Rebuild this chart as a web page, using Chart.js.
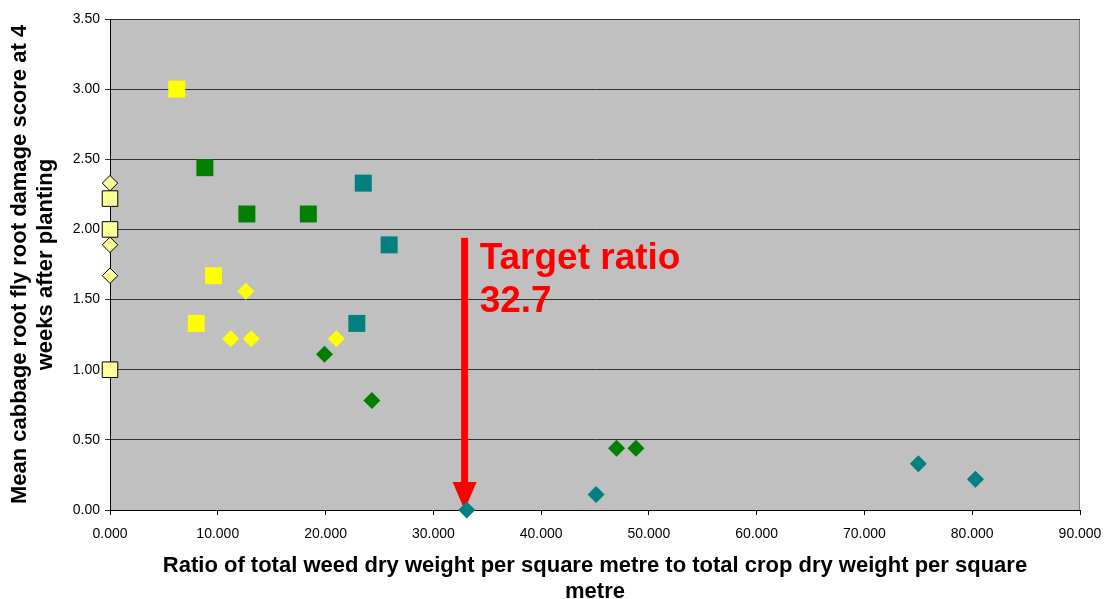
<!DOCTYPE html>
<html>
<head>
<meta charset="utf-8">
<script src="https://cdn.jsdelivr.net/npm/chart.js@4.4.0/dist/chart.umd.min.js"></script>
<style>
  html, body { margin: 0; padding: 0; background: #ffffff; }
  #wrap { width: 1106px; height: 599px; }
</style>
</head>
<body>
<div id="wrap"><canvas id="chart" width="1106" height="599"></canvas></div>
<script>
// ============================
// Data
// ============================
const xTicks = [0, 10, 20, 30, 40, 50, 60, 70, 80, 90];
const yTicks = [0, 0.5, 1, 1.5, 2, 2.5, 3, 3.5];

// pale yellow, bordered, sitting on the y axis
const paleSquareX = [0, 0, 0];
const paleSquareY = [2.22, 2.00, 1.00];
const paleDiamondX = [0, 0, 0];
const paleDiamondY = [2.33, 1.89, 1.67];

const yellowSquareX = [6.2, 9.6, 8.0];
const yellowSquareY = [3.00, 1.67, 1.33];
const yellowDiamondX = [12.6, 11.2, 13.1, 21.0];
const yellowDiamondY = [1.56, 1.22, 1.22, 1.22];

const greenSquareX = [8.8, 12.7, 18.4];
const greenSquareY = [2.44, 2.11, 2.11];
const greenDiamondX = [19.9, 24.3, 47.0, 48.8];
const greenDiamondY = [1.11, 0.78, 0.44, 0.44];

const tealSquareX = [23.5, 25.9, 22.9];
const tealSquareY = [2.33, 1.89, 1.33];
const tealDiamondX = [33.1, 45.1, 75.0, 80.3];
const tealDiamondY = [0.00, 0.11, 0.33, 0.22];

// target annotation
const targetLabel = ["Target ratio", "32.7"];
const arrowX = 32.9;
const arrowTop = 1.94;
const labelX = 34.3;
const labelY = 1.72;

function pts(xs, ys) {
    return xs.map((x, i) => ({ x: x, y: ys[i] }));
}

function series(xs, ys, style, radius, fill, border) {
    return {
        data: pts(xs, ys),
        pointStyle: style,
        pointRadius: radius,
        pointHoverRadius: radius,
        pointBackgroundColor: fill,
        pointBorderColor: border || fill,
        pointBorderWidth: border ? 1 : 0,
        showLine: false,
        clip: false
    };
}

// ============================
// Plugins
// ============================
const plotBackground = {
    id: "plotBackground",
    beforeDraw(chart) {
        const { ctx, chartArea: a } = chart;
        ctx.save();
        ctx.fillStyle = "#C0C0C0";
        ctx.fillRect(a.left, a.top, a.right - a.left, a.bottom - a.top);
        ctx.strokeStyle = "#808080";
        ctx.lineWidth = 1;
        ctx.strokeRect(a.left + 0.5, a.top + 0.5, a.right - a.left - 1, a.bottom - a.top);
        ctx.restore();
    }
};

const targetArrow = {
    id: "targetArrow",
    beforeDatasetsDraw(chart) {
        const { ctx } = chart;
        const xs = chart.scales.x, ys = chart.scales.y;
        const px = xs.getPixelForValue(arrowX);
        const top = ys.getPixelForValue(arrowTop);
        const tip = ys.getPixelForValue(0);
        const headLen = 28, headHalf = 12;

        ctx.save();
        ctx.fillStyle = "#FF0000";
        ctx.fillRect(px - 3.5, top, 7, tip - headLen - top + 1);
        ctx.beginPath();
        ctx.moveTo(px - headHalf, tip - headLen);
        ctx.lineTo(px + headHalf, tip - headLen);
        ctx.lineTo(px, tip);
        ctx.closePath();
        ctx.fill();

        ctx.font = "bold 37px 'Liberation Sans', Arial, sans-serif";
        ctx.textAlign = "left";
        ctx.textBaseline = "alphabetic";
        const lx = xs.getPixelForValue(labelX);
        const ly = ys.getPixelForValue(labelY);
        targetLabel.forEach((t, i) => ctx.fillText(t, lx, ly + i * 43));
        ctx.restore();
    }
};

// ============================
// Chart
// ============================
const titleFont = { family: "'Liberation Sans', Arial, sans-serif", size: 22, weight: "bold", lineHeight: 1.18 };
const tickFont = { family: "'Liberation Sans', Arial, sans-serif", size: 14 };

new Chart(document.getElementById("chart"), {
    type: "scatter",
    data: {
        datasets: [
            series(paleSquareX, paleSquareY, "rect", 11, "#FFFF99", "#000000"),
            series(paleDiamondX, paleDiamondY, "rectRot", 7.7, "#FFFF99", "#000000"),
            series(yellowSquareX, yellowSquareY, "rect", 12, "#FFFF00"),
            series(yellowDiamondX, yellowDiamondY, "rectRot", 8.5, "#FFFF00"),
            series(greenSquareX, greenSquareY, "rect", 12, "#008000"),
            series(greenDiamondX, greenDiamondY, "rectRot", 8.5, "#008000"),
            series(tealSquareX, tealSquareY, "rect", 12, "#008080"),
            series(tealDiamondX, tealDiamondY, "rectRot", 8.5, "#008080")
        ]
    },
    options: {
        responsive: false,
        animation: false,
        devicePixelRatio: 1,
        layout: { padding: { left: 0, top: 19, right: 26, bottom: 0 } },
        plugins: {
            legend: { display: false },
            tooltip: { enabled: false }
        },
        scales: {
            x: {
                type: "linear",
                min: 0,
                max: 90,
                afterBuildTicks: s => { s.ticks = xTicks.map(v => ({ value: v })); },
                afterFit: s => {
                    s.height = 89;
                    s.paddingLeft = 0;
                    s.paddingRight = 0;
                },
                ticks: {
                    color: "#000000",
                    font: tickFont,
                    padding: 11,
                    maxRotation: 0,
                    callback: v => Number(v).toFixed(3)
                },
                grid: {
                    drawOnChartArea: false,
                    drawTicks: true,
                    tickLength: 5,
                    color: "#000000"
                },
                border: { color: "#000000", width: 1 },
                title: {
                    display: true,
                    text: ["Ratio of total weed dry weight per square metre to total crop dry weight per square", "metre"],
                    color: "#000000",
                    font: titleFont,
                    padding: { top: 0, bottom: -6 }
                }
            },
            y: {
                type: "linear",
                min: 0,
                max: 3.5,
                afterBuildTicks: s => { s.ticks = yTicks.map(v => ({ value: v })); },
                afterFit: s => {
                    s.width = 110;
                    s.paddingTop = 0;
                    s.paddingBottom = 0;
                },
                ticks: {
                    color: "#000000",
                    font: tickFont,
                    padding: 5,
                    callback: v => Number(v).toFixed(2)
                },
                grid: {
                    drawTicks: true,
                    tickLength: 5,
                    color: "#333333",
                    lineWidth: 1
                },
                border: { color: "#000000", width: 1 },
                title: {
                    display: true,
                    text: ["Mean cabbage root fly root damage score at 4", "weeks after planting"],
                    color: "#000000",
                    font: titleFont,
                    padding: { top: 7, bottom: 0 }
                }
            }
        }
    },
    plugins: [plotBackground, targetArrow]
});
</script>
</body>
</html>
